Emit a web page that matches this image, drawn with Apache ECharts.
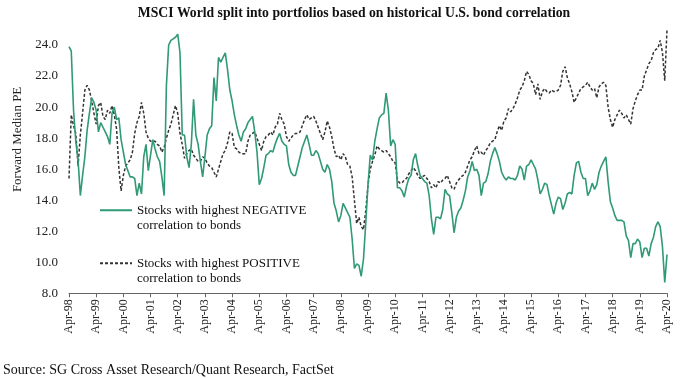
<!DOCTYPE html>
<html>
<head>
<meta charset="utf-8">
<script src="https://cdn.jsdelivr.net/npm/echarts@6/dist/echarts.min.js"></script>
<style>
html,body{margin:0;padding:0;background:#fff;}
#chart{width:680px;height:378px;}
</style>
</head>
<body>
<div id="chart"></div>
<script>
// Monthly, Apr-98 .. Apr-20 (265 points)
const startYear = 1998, startMonth = 3; // April (0-based)
const monthNames = ['Jan','Feb','Mar','Apr','May','Jun','Jul','Aug','Sep','Oct','Nov','Dec'];
const categories = [];
for (let i = 0; i < 265; i++) {
  const t = startMonth + i;
  const yy = (startYear + Math.floor(t / 12)) % 100;
  categories.push(monthNames[t % 12] + '-' + String(yy).padStart(2, '0'));
}

const negativeName = 'Stocks with highest NEGATIVE\ncorrelation to bonds';
const positiveName = 'Stocks with highest POSITIVE\ncorrelation to bonds';

const negativeCorr = [
  23.9, 23.6, 19.8, 17.8, 16.6, 14.3, 15.6, 16.8, 18.5, 19.6, 20.6, 20.3,
  19.8, 18.4, 19.0, 18.7, 18.4, 18.1, 17.6, 19.6, 20.0, 19.2, 19.3, 17.9,
  17.1, 16.3, 15.9, 15.5, 15.5, 15.4, 14.3, 15.1, 14.4, 16.8, 17.6, 15.9,
  16.9, 17.9, 17.3, 16.8, 16.5, 15.5, 14.3, 21.4, 24.0, 24.3, 24.4, 24.5,
  24.7, 23.5, 18.2, 18.2, 16.8, 16.1, 17.6, 20.5, 18.2, 17.6, 16.5, 15.5,
  16.8, 18.2, 18.6, 18.8, 21.9, 20.4, 23.2, 22.9, 23.2, 23.5, 22.4, 21.1,
  20.4, 19.5, 18.8, 18.2, 17.8, 18.4, 18.6, 19.0, 19.2, 19.4, 18.4, 17.1,
  15.0, 15.4, 16.1, 16.9, 17.0, 17.2, 17.1, 17.6, 18.0, 18.3, 17.8, 17.6,
  17.5, 16.3, 15.8, 15.6, 15.6, 16.2, 16.8, 17.4, 17.8, 18.2, 17.6, 16.9,
  16.9, 17.2, 17.0, 16.5, 16.0, 15.8, 16.3, 16.0, 15.2, 13.8, 13.3, 12.6,
  13.0, 13.8, 13.5, 13.2, 12.9, 11.5, 9.6, 9.9, 9.8, 9.1, 10.2, 12.5,
  15.0, 16.9, 16.6, 17.8, 18.6, 19.3, 19.5, 19.6, 20.9, 19.8, 17.5, 17.9,
  17.6, 14.8, 14.8, 14.6, 14.2, 14.9, 15.4, 15.6, 16.6, 17.0, 16.2, 15.6,
  15.4, 15.2, 15.1, 14.3, 12.8, 11.8, 12.9, 12.9, 12.8, 13.4, 14.7, 14.4,
  14.3, 13.2, 11.9, 12.9, 13.3, 13.5, 14.0, 14.6, 15.5, 15.9, 16.5, 15.9,
  16.0, 15.6, 14.3, 15.1, 15.2, 15.7, 16.5, 17.0, 17.4, 17.0, 16.5, 15.8,
  15.5, 15.3, 15.5, 15.4, 15.4, 15.3, 15.6, 16.2, 16.0, 15.3, 16.2, 16.3,
  16.6, 16.3, 16.0, 15.3, 14.4, 14.7, 15.1, 15.0, 14.3, 13.7, 13.1, 13.8,
  14.2, 14.1, 13.4, 13.8, 14.4, 14.5, 14.4, 15.6, 16.4, 16.5, 15.8, 15.4,
  15.4, 14.3, 14.6, 15.1, 14.7, 15.0, 15.8, 16.2, 16.5, 16.8, 15.2, 13.9,
  13.5, 13.0, 12.7, 12.7, 12.7, 12.6, 11.7, 11.4, 10.3, 11.2, 11.2, 11.5,
  11.3, 10.3, 10.9, 10.9, 10.4, 11.2, 11.6, 12.3, 12.6, 12.3, 11.0, 8.7,
  10.5
];

const positiveCorr = [
  15.4, 19.5, 18.8, 18.3, 16.2, 18.2, 19.6, 21.1, 21.4, 21.1, 20.4, 19.6,
  18.9, 20.1, 20.3, 19.4, 19.2, 19.8, 19.6, 20.1, 19.5, 18.6, 16.1, 14.6,
  15.6, 16.2, 16.4, 16.6, 17.1, 18.3, 19.0, 19.4, 20.3, 19.6, 18.4, 18.0,
  17.8, 17.8, 17.8, 17.6, 17.5, 17.1, 17.4, 18.0, 18.5, 18.9, 19.5, 20.1,
  19.6, 18.3, 17.6, 16.7, 17.0, 17.2, 17.3, 16.9, 16.7, 16.5, 16.5, 16.8,
  16.7, 16.4, 16.2, 16.1, 15.8, 15.5, 16.0, 16.5, 17.0, 17.2, 17.7, 18.4,
  18.3, 17.4, 17.3, 17.1, 17.0, 17.0, 17.0, 17.8, 18.2, 18.3, 18.4, 18.0,
  17.6, 17.2, 17.8, 18.1, 18.2, 18.4, 18.2, 18.7, 18.9, 19.6, 19.2, 18.9,
  18.1, 17.8, 18.0, 18.2, 18.3, 18.3, 18.4, 18.8, 19.2, 19.5, 19.2, 19.3,
  19.4, 19.1, 18.7, 18.3, 17.9, 18.4, 19.1, 18.7, 18.1, 17.3, 16.8, 16.9,
  16.6, 17.0, 16.8, 16.3, 16.2, 15.5, 14.0, 12.5, 12.9, 12.3, 12.1, 13.3,
  15.0, 16.0, 16.5, 16.9, 17.5, 17.3, 17.2, 17.1, 17.2, 17.0, 16.8, 16.5,
  16.4, 15.3, 15.1, 15.1, 15.3, 15.4, 15.7, 15.9, 16.1, 15.9, 15.6, 15.4,
  15.5, 15.6, 15.4, 15.2, 14.8, 15.0, 14.8, 15.2, 15.1, 15.3, 15.4, 15.6,
  15.2, 14.8, 14.7, 15.1, 15.3, 15.5, 15.6, 15.8, 16.2, 16.6, 16.8, 17.2,
  17.5, 17.0, 17.1, 16.9, 17.2, 17.4, 17.7, 17.8, 17.9, 18.4, 18.8, 18.5,
  19.1, 19.3, 19.9, 19.7, 19.9, 20.2, 20.6, 21.1, 21.3, 21.7, 22.3, 22.1,
  21.7, 21.5, 20.8, 21.5, 20.5, 21.0, 21.2, 21.0, 20.9, 21.1, 21.0, 21.0,
  21.1, 21.4, 22.3, 22.6, 21.9, 21.5, 21.0, 20.3, 20.6, 20.9, 21.2, 21.3,
  21.4, 21.6, 21.3, 21.1, 21.2, 20.6, 21.3, 21.5, 21.6, 21.4, 20.0, 19.2,
  18.7, 19.2, 19.5, 19.8, 19.6, 19.3, 19.5, 19.2, 18.9, 19.9, 20.4, 20.8,
  21.1, 21.1, 22.0, 22.4, 22.8, 23.0, 23.5, 23.7, 23.8, 24.3, 23.5, 21.7,
  25.0
];

const yTicks = [8, 10, 12, 14, 16, 18, 20, 22, 24];

const serif = '"Liberation Serif", "Times New Roman", "DejaVu Serif", serif';
const chart = echarts.init(document.getElementById('chart'), null, {renderer: 'canvas'});

chart.setOption({
  animation: false,
  backgroundColor: '#ffffff',
  title: [
    {
      text: 'MSCI World split into portfolios based on historical U.S. bond correlation',
      left: 349, top: 1, textAlign: 'center',
      textStyle: {fontFamily: serif, fontSize: 13.7, fontWeight: 'bold', color: '#111'}
    },
    {
      text: 'Source: SG Cross Asset Research/Quant Research, FactSet',
      left: -2, top: 358,
      textStyle: {fontFamily: serif, fontSize: 14, fontWeight: 'normal', color: '#111'}
    }
  ],
  legend: {
    orient: 'vertical',
    left: 99, top: 187,
    padding: 0,
    itemGap: 6.5,
    itemWidth: 32, itemHeight: 10,
    data: [negativeName, positiveName],
    formatter: (name) => '\n' + name,
    itemStyle: {opacity: 0},
    textStyle: {fontFamily: serif, fontSize: 13, color: '#111', lineHeight: 15.5}
  },
  grid: {left: 69, right: 13, top: 29.5, bottom: 84.7, containLabel: false},
  xAxis: {
    type: 'category',
    data: categories,
    boundaryGap: false,
    axisLine: {show: true, lineStyle: {color: '#666', width: 1}},
    axisTick: {show: true, length: 4, interval: (i) => i % 12 === 0, lineStyle: {color: '#666'}},
    axisLabel: {
      rotate: 90, margin: 6,
      interval: (i) => i % 12 === 0,
      fontFamily: serif, fontSize: 12, color: '#222'
    },
    splitLine: {show: false}
  },
  yAxis: {
    type: 'value',
    min: 8, max: 25, interval: 2,
    name: 'Forward Median PE',
    nameLocation: 'middle',
    nameGap: 44,
    nameTextStyle: {fontFamily: serif, fontSize: 13, color: '#222', padding: [0, 0, 0, 44]},
    axisLine: {show: false},
    axisTick: {show: false},
    splitLine: {show: false},
    axisLabel: {
      margin: 11,
      fontFamily: serif, fontSize: 13, color: '#222',
      formatter: (v) => yTicks.indexOf(v) >= 0 ? v.toFixed(1) : ''
    }
  },
  series: [
    {
      name: negativeName,
      type: 'line',
      data: negativeCorr,
      symbol: 'none',
      smooth: false,
      lineStyle: {color: '#2f9a74', width: 1.6},
      itemStyle: {color: '#2f9a74'},
      z: 3
    },
    {
      name: positiveName,
      type: 'line',
      data: positiveCorr,
      symbol: 'none',
      smooth: false,
      lineStyle: {color: '#333333', width: 1.5, type: [3, 2]},
      itemStyle: {color: '#333333'},
      z: 2
    }
  ]
});
</script>
</body>
</html>
